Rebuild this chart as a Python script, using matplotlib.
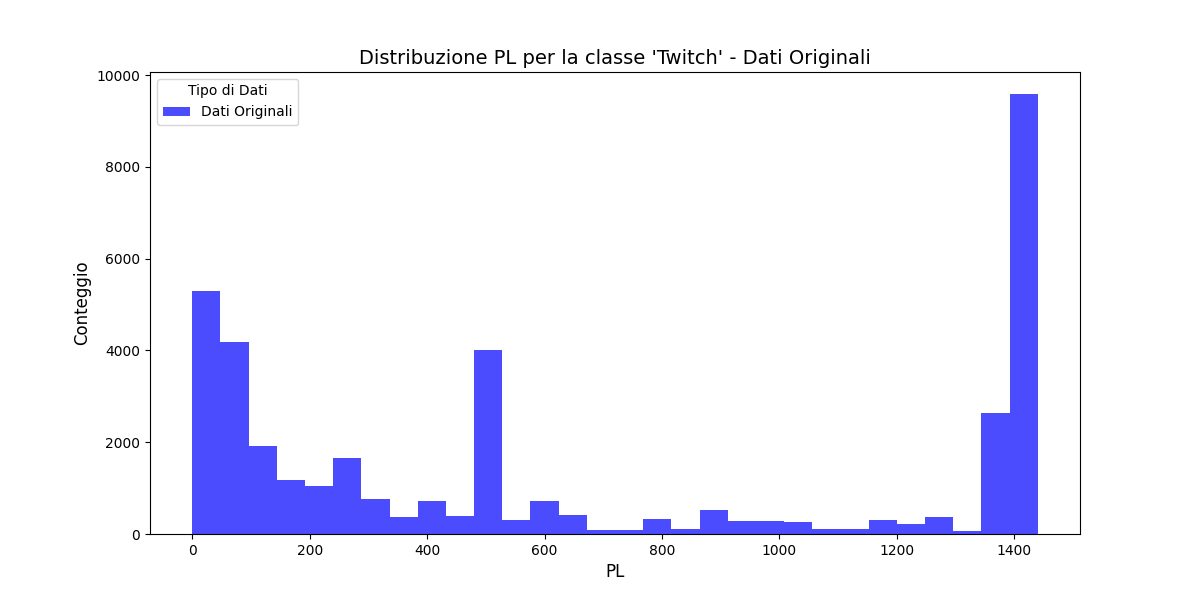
import numpy as np
import matplotlib
matplotlib.use("Agg")
import matplotlib.pyplot as plt

# histogram bin edges (30 bins) and counts
bin_edges = np.linspace(0, 1440, 31)
counts = [5300, 4180, 1920, 1180, 1050, 1660, 760, 370, 720, 390,
          4010, 300, 720, 410, 90, 90, 330, 110, 520, 280,
          280, 260, 110, 110, 300, 220, 370, 70, 2640, 9590]

fig, ax = plt.subplots(figsize=(12, 6), dpi=100)
centers = (bin_edges[:-1] + bin_edges[1:]) / 2
ax.hist(centers, bins=bin_edges, weights=counts, color='blue', alpha=0.7,
        label='Dati Originali')

ax.set_title("Distribuzione PL per la classe 'Twitch' - Dati Originali", fontsize=14)
ax.set_xlabel("PL", fontsize=12)
ax.set_ylabel("Conteggio", fontsize=12)
ax.legend(title='Tipo di Dati', loc='upper left')

fig.savefig("out.png")
